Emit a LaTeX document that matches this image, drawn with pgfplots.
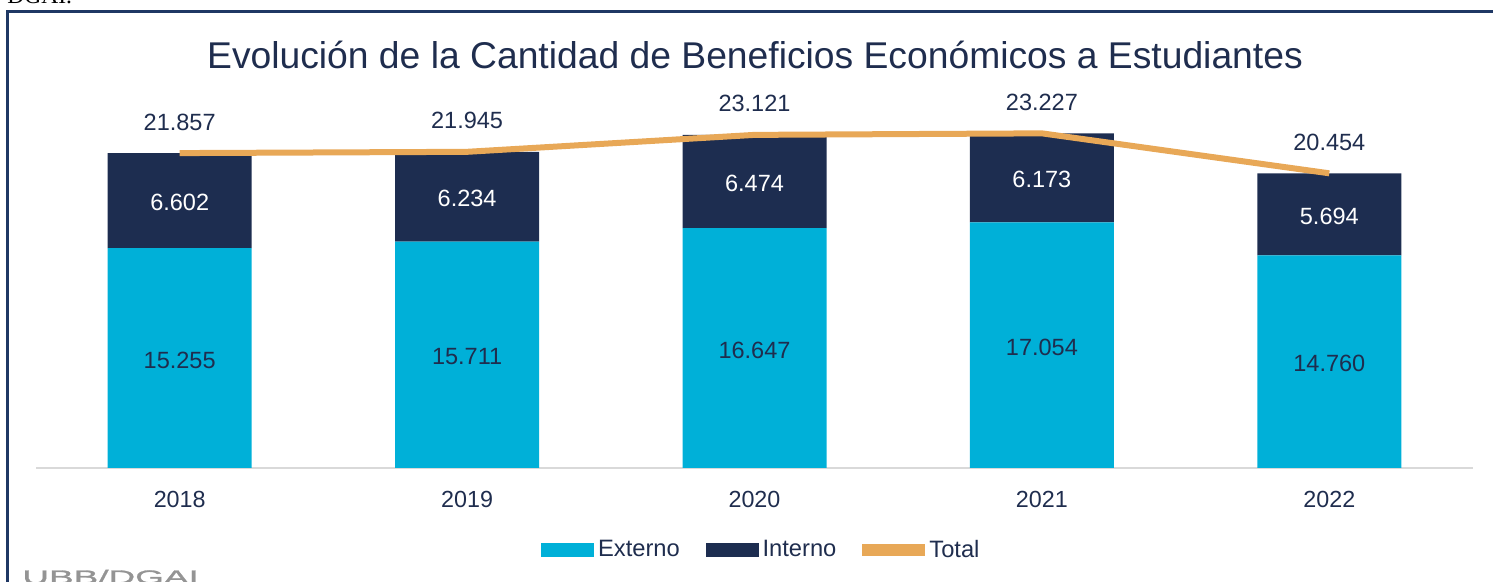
\documentclass[border=0pt]{standalone}
\usepackage{fontspec}
\setmainfont{Liberation Sans}
\newfontfamily\serifdgai{Liberation Serif}
\newfontfamily\ubbfont[FakeStretch=1.95,FakeBold=1.5]{Liberation Sans}
\usepackage{pgfplots}
\pgfplotsset{compat=1.18}
\definecolor{ext}{RGB}{0,176,216}
\definecolor{int}{RGB}{29,45,80}
\definecolor{tot}{RGB}{232,168,87}
\definecolor{txt}{RGB}{31,45,78}
\definecolor{frm}{RGB}{31,56,100}
\definecolor{axgray}{RGB}{217,217,217}

\begin{document}
\begin{tikzpicture}
\useasboundingbox (0,0) rectangle (746.5bp,291bp);
\draw[frm, line width=1.5bp] (3.5bp,-5bp) -- (3.5bp,285bp) -- (760bp,285bp);
\node[anchor=base west, font=\serifdgai\fontsize{11.8}{14}\selectfont, inner sep=0] at (3.5bp,289bp) {DGAI.};
\node[anchor=base west, text=black!42, font=\ubbfont\fontsize{9.5}{11}\selectfont, inner sep=0] at (11bp,-0.8bp) {UBB/DGAI};
\node[text=txt, font=\fontsize{18.7}{22}\selectfont, inner sep=0] at (377.5bp,263.5bp) {Evolución de la Cantidad de Beneficios Económicos a Estudiantes};

\pgfplotsset{common/.style={scale only axis, width=718.5bp, height=187.3bp, at={(18bp,57bp)}, anchor=south west, xmin=-0.5, xmax=4.5, ymin=0, ymax=26000, enlargelimits=false}}

\begin{axis}[common, ybar stacked, bar width=72bp,
  axis x line=bottom, axis y line=none,
  axis line style={draw=axgray, line width=1bp, -},
  xtick={0,1,2,3,4}, xticklabels={2018,2019,2020,2021,2022},
  major tick length=0,
  xticklabel style={text=txt, font=\fontsize{11.7}{14}\selectfont, anchor=center, yshift=-15.5bp}]
\addplot[fill=ext, draw=none] coordinates {(0,15255)(1,15711)(2,16647)(3,17054)(4,14760)};
\addplot[fill=int, draw=none] coordinates {(0,6602)(1,6234)(2,6474)(3,6173)(4,5694)};
\end{axis}

\begin{axis}[common, hide axis,
  legend columns=3,
  legend style={draw=none, fill=none, at={(0.5055,-0.219)}, anchor=center,
    font=\fontsize{11.9}{14}\selectfont, text=txt,
    /tikz/every even column/.append style={column sep=11bp}},
  legend cell align=left]
\addlegendimage{legend image code/.code={\fill[ext] (0bp,-3.25bp) rectangle (26bp,3.25bp);}}
\addlegendentry{Externo}
\addlegendimage{legend image code/.code={\fill[int] (0bp,-3.25bp) rectangle (26bp,3.25bp);}}
\addlegendentry{Interno}
\addplot[tot, line width=3bp, mark=none, legend image code/.code={\fill[tot] (0bp,-1.5bp) rectangle (28.5bp,1.5bp);}]
  coordinates {(0,21857)(1,21945)(2,23121)(3,23227)(4,20454)};
\addlegendentry{Total}
\addplot[draw=none, mark=none, forget plot, nodes near coords, point meta=explicit symbolic,
  nodes near coords style={anchor=center, text=txt, font=\fontsize{11.8}{14}\selectfont, yshift=15.5bp}]
  coordinates {(0,21857)[21.857] (1,21945)[21.945] (2,23121)[23.121] (3,23227)[23.227] (4,20454)[20.454]};
\addplot[draw=none, mark=none, forget plot, nodes near coords, point meta=explicit symbolic,
  nodes near coords style={anchor=center, text=txt, font=\fontsize{11.8}{14}\selectfont, yshift=-1bp}]
  coordinates {(0,7627.5)[15.255] (1,7855.5)[15.711] (2,8323.5)[16.647] (3,8527)[17.054] (4,7380)[14.760]};
\addplot[draw=none, mark=none, forget plot, nodes near coords, point meta=explicit symbolic,
  nodes near coords style={anchor=center, text=white, font=\fontsize{11.8}{14}\selectfont, yshift=-1bp}]
  coordinates {(0,18556)[6.602] (1,18828)[6.234] (2,19884)[6.474] (3,20140.5)[6.173] (4,17607)[5.694]};
\end{axis}
\end{tikzpicture}
\end{document}
